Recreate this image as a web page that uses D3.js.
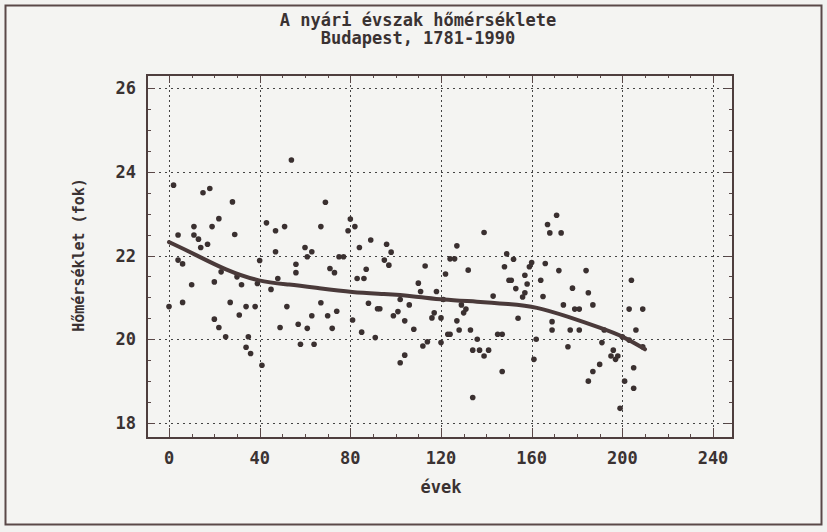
<!DOCTYPE html>
<html lang="hu">
    <head>
        <meta charset="utf-8"/>
        <script src="https://d3js.org/d3.v7.min.js"></script>
        <style>
            body { margin: 0; background: #f2f2f0; }
            text { font-family: "DejaVu Sans Mono", "Liberation Mono", monospace; font-weight: bold; fill: #3a3232; }
        </style>
    </head>
    <body>
        <div id="chart"></div>
    </body>
    <script>
        // years since 1781 (x) and summer mean temperature (y)
        var years = [
            2, 15, 18, 28, 22, 11, 19, 4, 11, 13, 29, 17, 14, 43, 47, 51, 47, 4, 6, 40,
            23, 30, 39, 48, 45, 10, 20, 32, 0, 6, 27, 34, 38, 52, 31, 20, 22, 25, 35, 34,
            36, 41, 49, 54, 69, 67, 80, 82, 79, 89, 84, 96, 98, 60, 63, 61, 75, 77, 95, 97,
            56, 56, 71, 73, 87, 83, 86, 67, 74, 63, 70, 88, 92, 93, 102, 106, 101, 99, 57, 61,
            72, 81, 85, 104, 108, 91, 58, 64, 104, 102, 139, 127, 124, 126, 113, 122, 132, 149, 152, 148,
            159, 160, 157, 150, 158, 153, 157, 156, 143, 110, 111, 118, 117, 116, 120, 129, 131, 130, 127, 128,
            133, 123, 145, 147, 154, 136, 114, 112, 120, 134, 137, 141, 139, 147, 161, 162, 134, 121, 171, 167,
            168, 173, 166, 172, 184, 164, 178, 185, 165, 174, 181, 187, 204, 209, 203, 169, 169, 177, 181, 206,
            192, 191, 176, 196, 195, 197, 198, 190, 187, 185, 201, 205, 205, 199, 209, 200, 203, 124, 151, 179
        ];
        var temps = [
            23.68, 23.50, 23.60, 23.28, 22.88, 22.69, 22.69, 22.49, 22.49, 22.39, 22.50, 22.27, 22.19, 22.78, 22.59, 22.69, 22.09, 21.89, 21.80, 21.88,
            21.61, 21.49, 21.33, 21.45, 21.19, 21.30, 21.37, 21.30, 20.78, 20.88, 20.88, 20.78, 20.78, 20.78, 20.58, 20.48, 20.28, 20.06, 20.06, 19.81,
            19.66, 19.38, 20.28, 24.28, 23.27, 22.69, 22.87, 22.69, 22.59, 22.37, 22.19, 22.27, 22.08, 22.19, 22.09, 21.97, 21.97, 21.97, 21.89, 21.77,
            21.79, 21.59, 21.69, 21.59, 21.67, 21.45, 21.45, 20.87, 20.67, 20.56, 20.56, 20.86, 20.73, 20.73, 20.95, 20.82, 20.66, 20.56, 20.36, 20.26,
            20.26, 20.46, 20.17, 20.44, 20.24, 20.04, 19.88, 19.88, 19.62, 19.44, 22.55, 22.23, 21.92, 21.92, 21.75, 21.56, 21.65, 22.04, 21.91, 21.73,
            21.73, 21.83, 21.53, 21.41, 21.32, 21.21, 21.11, 21.01, 21.03, 21.34, 21.14, 21.14, 20.63, 20.51, 20.51, 20.82, 20.72, 20.63, 20.44, 20.22,
            20.22, 20.12, 20.12, 20.12, 20.50, 20.00, 19.94, 19.84, 19.92, 19.74, 19.74, 19.74, 19.60, 19.23, 19.52, 20.00, 18.61, 20.95, 22.96, 22.74,
            22.54, 22.54, 21.81, 21.64, 21.64, 21.41, 21.22, 21.11, 21.02, 20.82, 20.72, 20.82, 21.41, 20.72, 20.72, 20.42, 20.22, 20.22, 20.22, 20.22,
            20.22, 19.92, 19.82, 19.74, 19.60, 19.52, 19.60, 19.40, 19.23, 19.00, 19.00, 19.32, 18.83, 18.35, 19.82, 20.06, 19.98, 20.12, 21.41, 20.72
        ];

        // fitted trend as drawn in the picture
        var trendX = [0, 11, 25, 40, 53, 66, 81, 95, 108, 121, 136, 150, 162, 176, 191, 200, 210];
        var trendY = [22.32, 22.04, 21.65, 21.37, 21.31, 21.22, 21.12, 21.08, 21.03, 20.94, 20.90, 20.84, 20.78, 20.54, 20.26, 20.08, 19.76];

        var xTicks = [0, 40, 80, 120, 160, 200, 240];
        var yTicks = [18, 20, 22, 24, 26];

        var W = 827, H = 532;
        var frame = {left: 147, top: 75, right: 733, bottom: 438};

        var svg = d3.select("#chart")
            .append("svg")
                .attr("width", W)
                .attr("height", H)

        // outer border
        svg.append("rect")
            .attr("x", 5.5).attr("y", 5.5)
            .attr("width", 816).attr("height", 519)
            .attr("fill", "#f4f4f2")
            .attr("stroke", "#5a4848")
            .attr("stroke-width", 2)

        var x = d3.scaleLinear()
            .domain([0, 240])
            .range([169, 713])

        var y = d3.scaleLinear()
            .domain([18, 26])
            .range([423, 88])

        // title
        svg.append("text")
            .attr("x", 418).attr("y", 26)
            .attr("text-anchor", "middle")
            .style("font-size", "17px")
            .text("A nyári évszak hőmérséklete")
        svg.append("text")
            .attr("x", 418).attr("y", 44)
            .attr("text-anchor", "middle")
            .style("font-size", "17px")
            .text("Budapest, 1781-1990")

        // grid
        var grid = svg.append("g")
            .attr("stroke", "#444")
            .attr("stroke-width", 1)
        grid.selectAll("line.h")
            .data(yTicks)
            .enter()
            .append("line")
            .attr("x1", frame.left).attr("x2", frame.right)
            .attr("y1", function (d) { return Math.round(y(d)) + 0.5; })
            .attr("y2", function (d) { return Math.round(y(d)) + 0.5; })
            .attr("stroke-dasharray", "2,4")
        grid.selectAll("line.v")
            .data(xTicks)
            .enter()
            .append("line")
            .attr("x1", function (d) { return Math.round(x(d)) + 0.5; })
            .attr("x2", function (d) { return Math.round(x(d)) + 0.5; })
            .attr("y1", frame.top).attr("y2", frame.bottom)
            .attr("stroke-dasharray", "2,3")

        // ticks inside the frame
        var yMinor = d3.range(36, 53).map(function (d) { return d / 2; });
        var ticks = svg.append("g").attr("stroke", "#5a4848").attr("stroke-width", 1)
        ticks.selectAll("line.yl")
            .data(yMinor)
            .enter()
            .append("line")
            .attr("x1", frame.left)
            .attr("x2", function (d) { return frame.left + (d % 2 === 0 ? 8 : 4); })
            .attr("y1", function (d) { return Math.round(y(d)) + 0.5; })
            .attr("y2", function (d) { return Math.round(y(d)) + 0.5; })
        ticks.selectAll("line.yr")
            .data(yMinor)
            .enter()
            .append("line")
            .attr("x1", frame.right)
            .attr("x2", function (d) { return frame.right - (d % 2 === 0 ? 8 : 4); })
            .attr("y1", function (d) { return Math.round(y(d)) + 0.5; })
            .attr("y2", function (d) { return Math.round(y(d)) + 0.5; })
        var xMinor = d3.range(0, 250, 10);
        ticks.selectAll("line.xb")
            .data(xMinor)
            .enter()
            .append("line")
            .attr("x1", function (d) { return Math.round(x(d)) + 0.5; })
            .attr("x2", function (d) { return Math.round(x(d)) + 0.5; })
            .attr("y1", frame.bottom)
            .attr("y2", function (d) { return frame.bottom - (d % 40 === 0 ? 10 : 4); })
        ticks.selectAll("line.xt")
            .data(xMinor)
            .enter()
            .append("line")
            .attr("x1", function (d) { return Math.round(x(d)) + 0.5; })
            .attr("x2", function (d) { return Math.round(x(d)) + 0.5; })
            .attr("y1", frame.top)
            .attr("y2", function (d) { return frame.top + (d % 40 === 0 ? 8 : 3); })

        // plot frame
        svg.append("rect")
            .attr("x", frame.left).attr("y", frame.top)
            .attr("width", frame.right - frame.left)
            .attr("height", frame.bottom - frame.top)
            .attr("fill", "none")
            .attr("stroke", "#4e3e3e")
            .attr("stroke-width", 2)

        // tick labels
        svg.append("g")
            .selectAll("text")
            .data(yTicks)
            .enter()
            .append("text")
            .attr("x", 136)
            .attr("y", function (d) { return y(d) + 6; })
            .attr("text-anchor", "end")
            .style("font-size", "17px")
            .text(function (d) { return d; })
        svg.append("g")
            .selectAll("text")
            .data(xTicks)
            .enter()
            .append("text")
            .attr("x", function (d) { return x(d); })
            .attr("y", 464)
            .attr("text-anchor", "middle")
            .style("font-size", "17px")
            .text(function (d) { return d; })

        // axis titles
        svg.append("text")
            .attr("x", 441).attr("y", 493)
            .attr("text-anchor", "middle")
            .style("font-size", "17px")
            .text("évek")
        svg.append("text")
            .attr("transform", "translate(84,255) rotate(-90)")
            .attr("text-anchor", "middle")
            .style("font-size", "15px")
            .text("Hőmérséklet (fok)")

        // points
        var pts = years.map(function (d, i) { return {yr: d, t: temps[i]}; })
        svg.append("g")
            .selectAll("circle")
            .data(pts)
            .enter()
            .append("circle")
            .attr("cx", function (d) { return x(d.yr); })
            .attr("cy", function (d) { return y(d.t); })
            .attr("r", 2.8)
            .style("fill", "#3a3030")

        // trend
        var trend = trendX.map(function (d, i) { return [d, trendY[i]]; })
        svg.append("path")
            .datum(trend)
            .attr("fill", "none")
            .attr("stroke", "#4a3a3a")
            .attr("stroke-width", 4)
            .attr("stroke-linecap", "round")
            .attr("d", d3.line()
                .x(function (d) { return x(d[0]); })
                .y(function (d) { return y(d[1]); })
                .curve(d3.curveBasis))
    </script>
</html>
